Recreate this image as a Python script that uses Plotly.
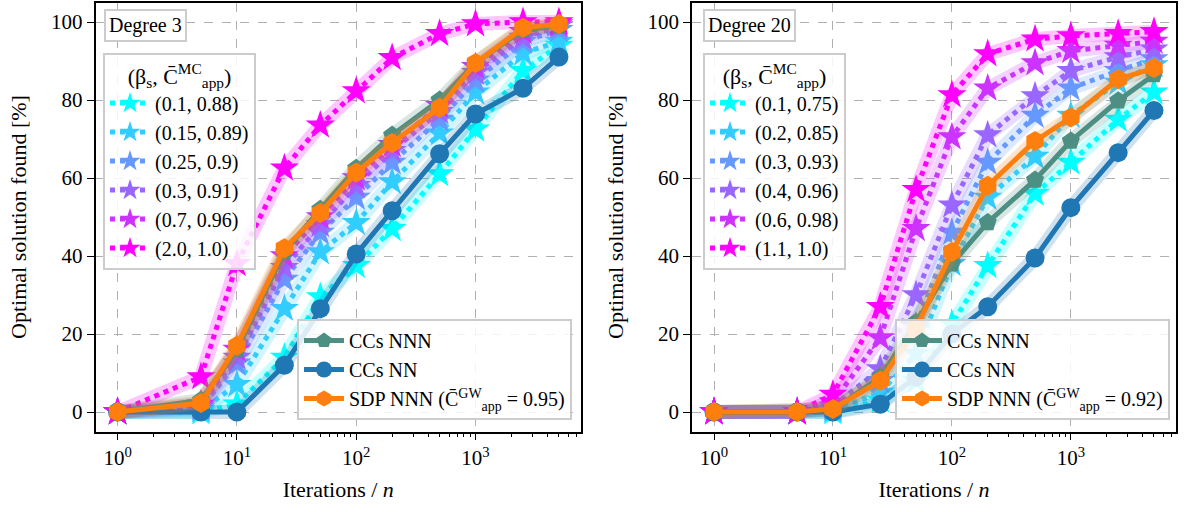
import plotly.graph_objects as go

# Iteration counts (per n) at which the success rate was measured
iters = [1, 5, 10, 25, 50, 100, 200, 500, 1000, 2500, 5000]

# ---- Degree 3 ----
d3_mc_labels = ["(0.1, 0.88)", "(0.15, 0.89)", "(0.25, 0.9)",
                "(0.3, 0.91)", "(0.7, 0.96)", "(2.0, 1.0)"]
d3_mc_b010 = [0, 0, 2, 14, 29.5, 37.5, 47, 61, 72.5, 87.5, 94]
d3_mc_b015 = [0, 0.5, 7, 26.5, 41, 48.5, 59, 71.5, 82, 92, 95]
d3_mc_b025 = [0, 1, 12.5, 34, 46, 55, 64, 75, 85, 95, 98]
d3_mc_b030 = [0, 1.5, 14, 37, 48, 58, 67, 77, 87, 96, 99]
d3_mc_b070 = [0, 2, 16, 40, 50, 60, 68.5, 78.5, 88.5, 97.5, 99.5]
d3_mc_b200 = [0, 9, 38, 62.5, 73.5, 82.3, 90.8, 97, 99.5, 100, 100]
d3_ccs_nnn = [0, 3, 16, 41, 52, 62.5, 71, 80, 89.5, 98, 99]
d3_ccs_nn = [0, 0, 0, 12, 26.5, 40.5, 51.6, 66.2, 76.4, 83, 91]
d3_sdp_nnn = [0, 2.3, 17, 42, 51, 61.4, 69, 78, 89.5, 98.5, 99.5]
d3_sdp_ratio = "0.95"

# ---- Degree 20 ----
d20_mc_labels = ["(0.1, 0.75)", "(0.2, 0.85)", "(0.3, 0.93)",
                 "(0.4, 0.96)", "(0.6, 0.98)", "(1.1, 1.0)"]
d20_mc_b01 = [0, 0, 0, 3, 8, 22.5, 37.5, 56, 64, 75, 82]
d20_mc_b02 = [0, 0, 0.5, 5, 15, 38, 55, 65.5, 76, 84.5, 89]
d20_mc_b03 = [0, 0, 1, 8, 22, 46, 64, 76, 83, 87.5, 90.5]
d20_mc_b04 = [0, 0, 1.5, 11, 30, 53, 71, 81, 87.5, 91, 93]
d20_mc_b06 = [0, 0, 2.5, 19, 47, 70.5, 83, 89.5, 92.6, 94, 95]
d20_mc_b11 = [0, 0, 4.5, 27, 57, 81.3, 91.8, 95.6, 96.4, 97, 97.5]
d20_ccs_nnn = [0, 0, 0.5, 9, 23, 38, 48.6, 59.5, 69.5, 79.8, 86.5]
d20_ccs_nn = [0, 0, 0, 2, 9, 20, 27, 39.5, 52.4, 66.5, 77.3]
d20_sdp_nnn = [0, 0, 0.8, 8, 21.4, 41, 58, 69.5, 75.5, 85.3, 88.2]
d20_sdp_ratio = "0.92"

# "cool" colormap sampled at six points
mc_colors = [(0, 255, 255), (51, 204, 255), (102, 153, 255),
             (153, 102, 255), (204, 51, 255), (255, 0, 255)]
c_nnn = (78, 143, 131)
c_nn = (31, 119, 180)
c_sdp = (255, 127, 14)

FONT = "Liberation Serif"


def rgb(c, a=None):
    if a is None:
        return "rgb(%d,%d,%d)" % c
    return "rgba(%d,%d,%d,%.2f)" % (c + (a,))


fig = go.Figure()


def add_series(y, color, name, symbol, size, dash, width, xa, ya, legend):
    # translucent spread band behind each curve
    fig.add_trace(go.Scatter(
        x=iters, y=y, mode="lines", xaxis=xa, yaxis=ya,
        line=dict(color=rgb(color, 0.22), width=14),
        showlegend=False, hoverinfo="skip"))
    fig.add_trace(go.Scatter(
        x=iters, y=y, mode="lines+markers", name=name, xaxis=xa, yaxis=ya,
        legend=legend,
        line=dict(color=rgb(color), width=width, dash=dash),
        marker=dict(symbol=symbol, size=size, color=rgb(color),
                    line=dict(width=0))))


def add_panel(mc_series, mc_labels, nnn, nn, sdp, ratio, xa, ya, leg_mc, leg_cc):
    for y, lab, col in zip(mc_series, mc_labels, mc_colors):
        add_series(y, col, lab, "star", 22, "dot", 5, xa, ya, leg_mc)
    add_series(nnn, c_nnn, "CCs NNN", "pentagon", 19, "solid", 5, xa, ya, leg_cc)
    add_series(nn, c_nn, "CCs NN", "circle", 19, "solid", 5, xa, ya, leg_cc)
    add_series(sdp, c_sdp,
               "SDP NNN (C\u0304<sup>GW</sup><sub>app</sub> = %s)" % ratio,
               "hexagon", 20, "solid", 5, xa, ya, leg_cc)


add_panel([d3_mc_b010, d3_mc_b015, d3_mc_b025, d3_mc_b030, d3_mc_b070, d3_mc_b200],
          d3_mc_labels, d3_ccs_nnn, d3_ccs_nn, d3_sdp_nnn, d3_sdp_ratio,
          "x", "y", "legend", "legend2")
add_panel([d20_mc_b01, d20_mc_b02, d20_mc_b03, d20_mc_b04, d20_mc_b06, d20_mc_b11],
          d20_mc_labels, d20_ccs_nnn, d20_ccs_nn, d20_sdp_nnn, d20_sdp_ratio,
          "x2", "y2", "legend3", "legend4")

W, H = 1189, 512
minor_vals = [m * 10 ** e for e in range(0, 4) for m in range(2, 10)]

xaxis_common = dict(
    type="log", range=[-0.185, 3.884],
    tickvals=[1, 10, 100, 1000],
    ticktext=["10<sup>0</sup>", "10<sup>1</sup>", "10<sup>2</sup>", "10<sup>3</sup>"],
    ticks="outside", ticklen=7, tickwidth=1.2, tickcolor="black",
    minor=dict(tickvals=minor_vals, ticks="outside", ticklen=4, tickwidth=1,
               tickcolor="black", showgrid=False),
    showline=True, mirror=True, linecolor="black", linewidth=1.5,
    showgrid=True, gridcolor="#b0b0b0", griddash="dash", gridwidth=1,
    zeroline=False,
    tickfont=dict(family=FONT, size=21, color="black"),
    title=dict(text="Iterations / <i>n</i>", standoff=12,
               font=dict(family=FONT, size=22, color="black")),
)
yaxis_common = dict(
    range=[-5, 105], tickvals=[0, 20, 40, 60, 80, 100],
    ticks="outside", ticklen=7, tickwidth=1.2, tickcolor="black",
    showline=True, mirror=True, linecolor="black", linewidth=1.5,
    showgrid=True, gridcolor="#b0b0b0", griddash="dash", gridwidth=1,
    zeroline=False,
    tickfont=dict(family=FONT, size=21, color="black"),
    title=dict(text="Optimal solution found [%]", standoff=18,
               font=dict(family=FONT, size=22, color="black")),
)

y_dom = [(H - 431.5) / H, (H - 2.5) / H]
fig.update_layout(
    xaxis=dict(xaxis_common, domain=[95.5 / W, 581 / W], anchor="y"),
    yaxis=dict(yaxis_common, domain=y_dom, anchor="x"),
    xaxis2=dict(xaxis_common, domain=[692 / W, 1176 / W], anchor="y2"),
    yaxis2=dict(yaxis_common, domain=y_dom, anchor="x2"),
)

legend_common = dict(
    bgcolor="rgba(255,255,255,0.85)", bordercolor="#cccccc", borderwidth=2,
    font=dict(family=FONT, size=20, color="black"),
    itemwidth=40, tracegroupgap=0, itemclick=False,
)
mc_title = dict(text="(\u03b2<sub>s</sub>, C\u0304<sup>MC</sup><sub>app</sub>)",
                side="top center", font=dict(family=FONT, size=22, color="black"))
fig.update_layout(
    legend=dict(legend_common, x=103 / W, y=(H - 53) / H, xanchor="left",
                yanchor="top", title=mc_title),
    legend2=dict(legend_common, x=572 / W, y=(H - 420) / H, xanchor="right",
                 yanchor="bottom"),
    legend3=dict(legend_common, x=703 / W, y=(H - 53) / H, xanchor="left",
                 yanchor="top", title=mc_title),
    legend4=dict(legend_common, x=1170 / W, y=(H - 420) / H, xanchor="right",
                 yanchor="bottom"),
)

for txt, x0 in [("Degree 3", 104), ("Degree 20", 703)]:
    fig.add_annotation(
        text=txt, xref="paper", yref="paper", x=x0 / W, y=(H - 9) / H,
        xanchor="left", yanchor="top", showarrow=False,
        font=dict(family=FONT, size=20, color="black"),
        bgcolor="white", bordercolor="#cccccc", borderwidth=2, borderpad=3)

fig.update_layout(
    width=W, height=H, margin=dict(l=0, r=0, t=0, b=0),
    paper_bgcolor="white", plot_bgcolor="white",
    font=dict(family=FONT, color="black"),
)

fig.write_html("out.html")
